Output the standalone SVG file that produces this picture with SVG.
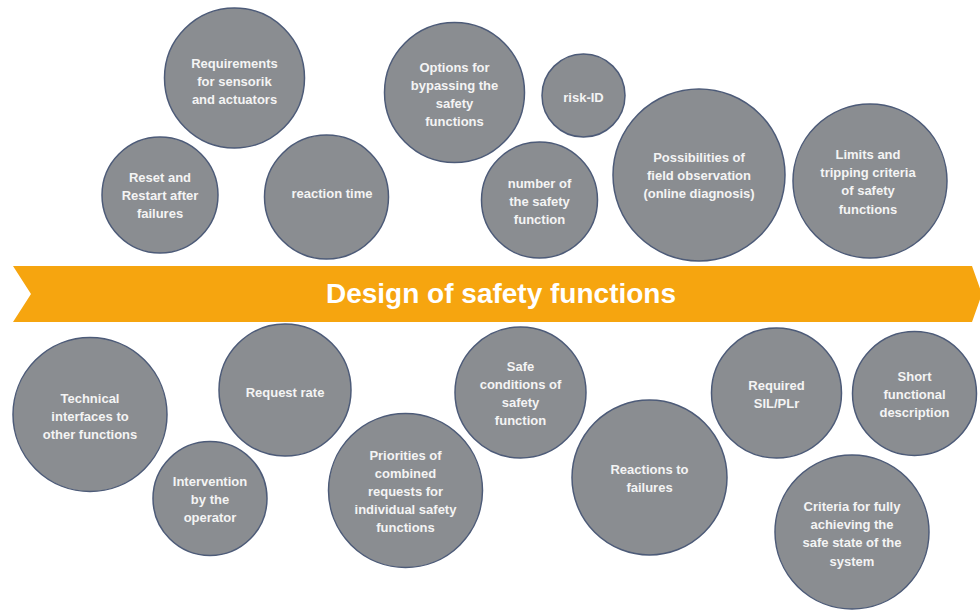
<svg xmlns="http://www.w3.org/2000/svg" width="980" height="610" viewBox="0 0 980 610">
  <style>
    .bubble { fill: #8a8d91; stroke: #4d5b78; stroke-width: 1.5; }
    .label { font-family: "Liberation Sans", Arial, sans-serif; font-weight: bold; font-size: 13px; fill: #f4f4f4; text-anchor: middle; }
    .title { font-family: "Liberation Sans", Arial, sans-serif; font-weight: bold; font-size: 28px; fill: #ffffff; text-anchor: middle; }
  </style>
  <rect width="980" height="610" fill="#ffffff"/>

  <!-- central banner -->
  <g id="banner">
    <polygon points="13,266 972,266 982,294 972,322 13,322 31,294" fill="#f6a50f"/>
    <text class="title" x="501" y="303">Design of safety functions</text>
  </g>

  <!-- upper row -->
  <g id="n-requirements">
    <circle class="bubble" cx="234.5" cy="78" r="70"/>
    <text class="label" x="234.5" y="68">Requirements</text>
    <text class="label" x="234.5" y="86">for sensorik</text>
    <text class="label" x="234.5" y="104">and actuators</text>
  </g>
  <g id="n-reset">
    <circle class="bubble" cx="160" cy="195" r="58"/>
    <text class="label" x="160" y="182">Reset and</text>
    <text class="label" x="160" y="200">Restart after</text>
    <text class="label" x="160" y="218">failures</text>
  </g>
  <g id="n-reaction">
    <circle class="bubble" cx="326.5" cy="197" r="62"/>
    <text class="label" x="332" y="198">reaction time</text>
  </g>
  <g id="n-bypass">
    <circle class="bubble" cx="454.5" cy="92.5" r="70"/>
    <text class="label" x="454.5" y="72">Options for</text>
    <text class="label" x="454.5" y="90">bypassing the</text>
    <text class="label" x="454.5" y="108">safety</text>
    <text class="label" x="454.5" y="126">functions</text>
  </g>
  <g id="n-risk">
    <circle class="bubble" cx="583.5" cy="95.5" r="41.5"/>
    <text class="label" x="583.5" y="102">risk-ID</text>
  </g>
  <g id="n-number">
    <circle class="bubble" cx="539.5" cy="200" r="58"/>
    <text class="label" x="539.5" y="188">number of</text>
    <text class="label" x="539.5" y="206">the safety</text>
    <text class="label" x="539.5" y="224">function</text>
  </g>
  <g id="n-field">
    <circle class="bubble" cx="699" cy="175" r="86"/>
    <text class="label" x="699" y="162">Possibilities of</text>
    <text class="label" x="699" y="180">field observation</text>
    <text class="label" x="699" y="198">(online diagnosis)</text>
  </g>
  <g id="n-limits">
    <circle class="bubble" cx="870" cy="181" r="77"/>
    <text class="label" x="868" y="159">Limits and</text>
    <text class="label" x="868" y="177">tripping criteria</text>
    <text class="label" x="868" y="195">of safety</text>
    <text class="label" x="868" y="214">functions</text>
  </g>

  <!-- lower row -->
  <g id="n-interfaces">
    <circle class="bubble" cx="90" cy="414.5" r="77"/>
    <text class="label" x="90" y="403">Technical</text>
    <text class="label" x="90" y="421">interfaces to</text>
    <text class="label" x="90" y="439">other functions</text>
  </g>
  <g id="n-request">
    <circle class="bubble" cx="285" cy="390" r="66"/>
    <text class="label" x="285" y="397">Request rate</text>
  </g>
  <g id="n-intervention">
    <circle class="bubble" cx="210" cy="498.5" r="57"/>
    <text class="label" x="210" y="486">Intervention</text>
    <text class="label" x="210" y="504">by the</text>
    <text class="label" x="210" y="522">operator</text>
  </g>
  <g id="n-priorities">
    <circle class="bubble" cx="405.5" cy="490.5" r="77"/>
    <text class="label" x="405.5" y="460">Priorities of</text>
    <text class="label" x="405.5" y="478">combined</text>
    <text class="label" x="405.5" y="496">requests for</text>
    <text class="label" x="405.5" y="514">individual safety</text>
    <text class="label" x="405.5" y="532">functions</text>
  </g>
  <g id="n-safe-conditions">
    <circle class="bubble" cx="520.5" cy="392.5" r="65.5"/>
    <text class="label" x="520.5" y="371">Safe</text>
    <text class="label" x="520.5" y="389">conditions of</text>
    <text class="label" x="520.5" y="407">safety</text>
    <text class="label" x="520.5" y="425">function</text>
  </g>
  <g id="n-reactions">
    <circle class="bubble" cx="649.5" cy="477.5" r="77.5"/>
    <text class="label" x="649.5" y="474">Reactions to</text>
    <text class="label" x="649.5" y="492">failures</text>
  </g>
  <g id="n-sil">
    <circle class="bubble" cx="776.5" cy="393" r="65"/>
    <text class="label" x="776.5" y="390">Required</text>
    <text class="label" x="776.5" y="408">SIL/PLr</text>
  </g>
  <g id="n-short">
    <circle class="bubble" cx="914.5" cy="393.5" r="62"/>
    <text class="label" x="914.5" y="381">Short</text>
    <text class="label" x="914.5" y="399">functional</text>
    <text class="label" x="914.5" y="417">description</text>
  </g>
  <g id="n-criteria">
    <circle class="bubble" cx="852" cy="532" r="77"/>
    <text class="label" x="852" y="511">Criteria for fully</text>
    <text class="label" x="852" y="529">achieving the</text>
    <text class="label" x="852" y="547">safe state of the</text>
    <text class="label" x="852" y="566">system</text>
  </g>

  <!-- no connectors in this figure -->
  <g id="connectors"/>
</svg>
